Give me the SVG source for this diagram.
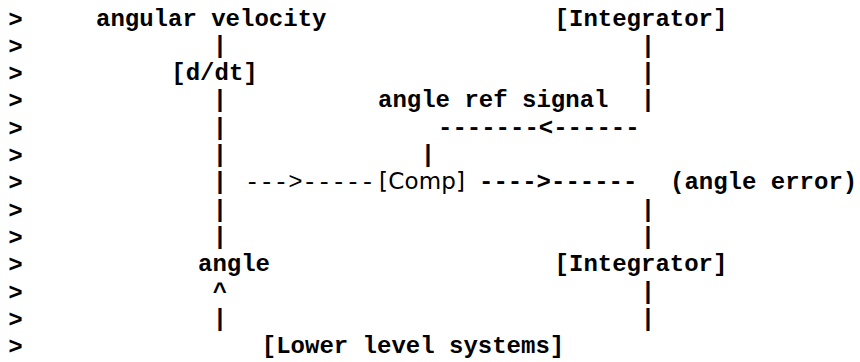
<svg xmlns="http://www.w3.org/2000/svg" width="860" height="362" viewBox="0 0 860 362">
<style>
.m{font-family:"Liberation Mono","DejaVu Sans Mono",monospace;font-weight:bold;font-size:24px;fill:#000;white-space:pre}
.r{font-family:"Liberation Mono","DejaVu Sans Mono",monospace;font-weight:normal;font-size:24px;fill:#000;white-space:pre}
.q{font-family:"Liberation Sans",Arial,sans-serif;font-weight:bold;font-size:24px;fill:#000}
.g{font-family:"DejaVu Sans","Noto Sans",sans-serif;font-weight:normal;font-size:23px;fill:#000;white-space:pre}
.c{text-anchor:middle}
</style>
<rect width="860" height="362" fill="#fff"/>
<g id="quote-marks">
<text class="q" x="8.5" y="26.5">&gt;</text>
<text class="q" x="8.5" y="53.8">&gt;</text>
<text class="q" x="8.5" y="81.1">&gt;</text>
<text class="q" x="8.5" y="108.4">&gt;</text>
<text class="q" x="8.5" y="135.7">&gt;</text>
<text class="q" x="8.5" y="163">&gt;</text>
<text class="q" x="8.5" y="190.3">&gt;</text>
<text class="q" x="8.5" y="217.6">&gt;</text>
<text class="q" x="8.5" y="244.9">&gt;</text>
<text class="q" x="8.5" y="272.2">&gt;</text>
<text class="q" x="8.5" y="299.5">&gt;</text>
<text class="q" x="8.5" y="326.8">&gt;</text>
<text class="q" x="8.5" y="354.1">&gt;</text>
</g>
<g id="angular-velocity"><text class="m" x="96" y="25.5">angular velocity</text></g>
<g id="integrator-top"><text class="m c" x="641" y="25.5">[Integrator]</text></g>
<g id="ddt"><text class="m c" x="214.5" y="80.1">[d/dt]</text></g>
<g id="angle-ref-signal"><text class="m" x="378" y="107.4">angle ref signal</text></g>
<g id="comp"><text class="g" x="379" y="189.3" textLength="86" lengthAdjust="spacing">[Comp]</text></g>
<g id="angle-error"><text class="m" x="670" y="189.3">(angle error)</text></g>
<g id="angle"><text class="m" x="198" y="271.2">angle</text></g>
<g id="integrator-bottom"><text class="m c" x="641" y="271.2">[Integrator]</text></g>
<g id="lower-level-systems"><text class="m c" x="413" y="353.1">[Lower level systems]</text></g>
<g id="connectors">
<text class="m c" x="220" y="52.8">|</text>
<text class="m c" x="648" y="52.8">|</text>
<text class="m c" x="648" y="80.1">|</text>
<text class="m c" x="220" y="107.4">|</text>
<text class="m c" x="648" y="107.4">|</text>
<text class="m c" x="220" y="134.7">|</text>
<text class="m" x="438" y="134.7">-------&lt;------</text>
<text class="m c" x="220" y="162">|</text>
<text class="m c" x="428" y="162">|</text>
<text class="m c" x="220" y="189.3">|</text>
<text class="r" x="245" y="189.3">---&gt;-----</text>
<text class="m" x="479" y="189.3">----&gt;------</text>
<text class="m c" x="220" y="216.6">|</text>
<text class="m c" x="648" y="216.6">|</text>
<text class="m c" x="220" y="243.9">|</text>
<text class="m c" x="648" y="243.9">|</text>
<text class="m c" x="220" y="298.5">^</text>
<text class="m c" x="648" y="298.5">|</text>
<text class="m c" x="220" y="325.8">|</text>
<text class="m c" x="648" y="325.8">|</text>
</g>
</svg>
